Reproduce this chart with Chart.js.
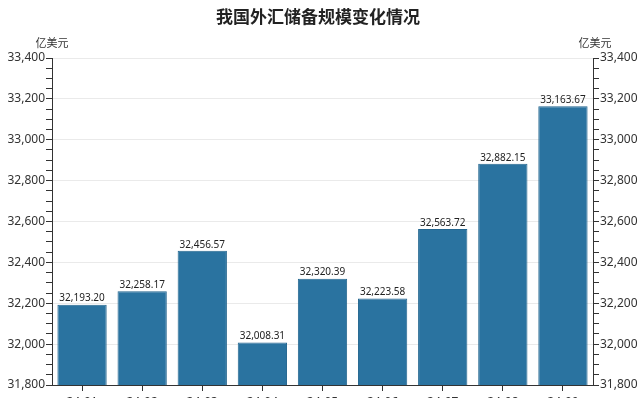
<!DOCTYPE html>
<html>
<head>
<meta charset="utf-8">
<script src="https://cdn.jsdelivr.net/npm/chart.js@4"></script>
<style>
  html, body { margin: 0; padding: 0; background: #fff; }
  #wrap { width: 640px; height: 398px; }
</style>
</head>
<body>
<div id="wrap"><canvas id="reserve-chart" width="640" height="398"></canvas></div>
<script>
// 月份
const months = ['24-01', '24-02', '24-03', '24-04', '24-05', '24-06', '24-07', '24-08', '24-09'];
// 外汇储备规模（亿美元）
const reserves = [32193.20, 32258.17, 32456.57, 32008.31, 32320.39, 32223.58, 32563.72, 32882.15, 33163.67];
// 纵轴范围
const yMin = 31800;
const yMax = 33400;

const numFont = "'Noto Sans', 'DejaVu Sans', sans-serif";
const cjkFont = "'Noto Sans CJK SC', sans-serif";

const fmt = v => v.toLocaleString('en-US', { minimumFractionDigits: 2, maximumFractionDigits: 2 });

// 标题、单位、柱顶数值
const extras = {
  id: 'extras',
  afterDatasetsDraw(chart) {
    const c = chart.ctx;
    c.save();
    c.fillStyle = '#222';
    c.textAlign = 'center';
    c.textBaseline = 'bottom';
    c.font = '10px ' + numFont;
    chart.getDatasetMeta(0).data.forEach((bar, i) => {
      c.fillText(fmt(reserves[i]), bar.x, bar.y - 1);
    });
    c.restore();
  },
  afterDraw(chart) {
    const c = chart.ctx;
    c.save();
    c.fillStyle = '#222';
    c.textAlign = 'center';
    c.textBaseline = 'middle';
    c.font = 'bold 17px ' + cjkFont;
    c.fillText('我国外汇储备规模变化情况', 318, 17);
    c.font = '11px ' + cjkFont;
    c.fillStyle = '#333';
    c.fillText('亿美元', 52, 43);
    c.fillText('亿美元', 595, 43);
    c.restore();
  }
};

const tickColor = ctx => (ctx.tick && ctx.tick.value % 200 === 0) ? '#eaeaea' : 'rgba(0,0,0,0)';

new Chart(document.getElementById('reserve-chart').getContext('2d'), {
  type: 'bar',
  data: {
    labels: months,
    datasets: [{
      data: reserves,
      backgroundColor: '#2a73a0',
      borderColor: '#24668f',
      borderWidth: 1,
      categoryPercentage: 0.82,
      barPercentage: 1,
      yAxisID: 'y'
    }]
  },
  options: {
    responsive: false,
    animation: false,
    layout: { padding: { top: 58, left: 0, right: 0, bottom: 0 } },
    plugins: { legend: { display: false }, tooltip: { enabled: false } },
    scales: {
      x: {
        grid: { offset: false, drawOnChartArea: false, tickLength: 6, color: '#333' },
        border: { color: '#333', width: 1 },
        ticks: { color: '#333', font: { size: 12, family: numFont }, padding: 4 },
        afterFit(s) { s.height = 13; }
      },
      y: {
        position: 'left',
        min: yMin, max: yMax,
        grid: { color: tickColor, tickColor: '#333', tickLength: 6 },
        border: { color: '#333', width: 1 },
        ticks: {
          stepSize: 50,
          autoSkip: false,
          color: '#333',
          padding: 1,
          font: { size: 12, family: numFont },
          callback: v => v % 200 === 0 ? v.toLocaleString('en-US') : ''
        },
        afterFit(s) { s.width = 52; }
      },
      y2: {
        position: 'right',
        min: yMin, max: yMax,
        grid: { drawOnChartArea: false, tickColor: '#333', tickLength: 6 },
        border: { color: '#333', width: 1 },
        ticks: {
          stepSize: 50,
          autoSkip: false,
          color: '#333',
          padding: 1,
          font: { size: 12, family: numFont },
          callback: v => v % 200 === 0 ? v.toLocaleString('en-US') : ''
        },
        afterFit(s) { s.width = 47; }
      }
    }
  },
  plugins: [extras]
});
</script>
</body>
</html>
